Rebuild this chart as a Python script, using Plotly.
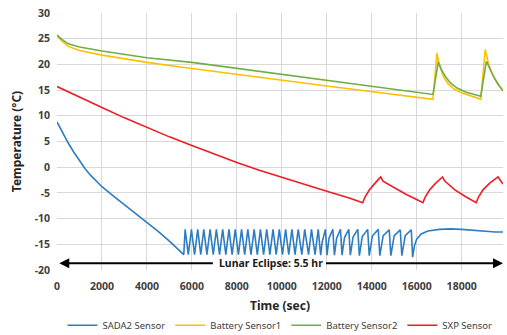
import plotly.graph_objects as go

# ---------------- data ----------------
sada2_t = [0, 250, 500, 750, 1000, 1250, 1500, 1750, 2000, 2500, 3000, 3500, 4000, 4500, 5000, 5640,
           5700, 5840, 5980, 6120, 6260, 6395, 6530, 6670, 6810, 6950, 7090, 7230, 7370,
           7510, 7650, 7790, 7930, 8070, 8210, 8350, 8490, 8630, 8770, 8910, 9050, 9190,
           9330, 9470, 9610, 9750, 9890, 10030, 10170, 10310, 10450, 10590, 10730,
           10890, 11020, 11190, 11320, 11480, 11620, 11730, 11800, 11940,
           12010, 12100, 12270, 12340, 12440, 12610, 12680, 12790, 12980,
           13050, 13170, 13380, 13450, 13580, 13820, 13890, 14030, 14290,
           14360, 14510, 14780, 14850, 15000, 15270, 15340, 15490, 15760,
           15820, 15900, 16000, 16200, 16500, 17000, 17500, 18000, 18500, 19000, 19500, 19840]
sada2_v = [8.8, 6.7, 4.7, 2.9, 1.2, -0.3, -1.6, -2.8, -3.8, -5.6, -7.3, -9.0, -10.7, -12.5, -14.4, -17.0,
           -12.1, -17.0, -12.1, -17.0, -12.1, -17.0, -12.1, -17.0, -12.1, -17.0, -12.1, -17.0, -12.1,
           -17.0, -12.1, -17.0, -12.1, -17.0, -12.1, -17.0, -12.1, -17.0, -12.1, -17.0, -12.1, -17.0,
           -12.1, -17.0, -12.1, -17.0, -12.1, -17.0, -12.1, -17.0, -12.1, -17.0, -12.1,
           -17.0, -12.1, -17.0, -12.1, -17.0, -12.1, -17.1, -14.5, -12.1,
           -17.1, -13.8, -12.1, -17.1, -13.8, -12.1, -17.1, -13.7, -12.1,
           -17.1, -13.6, -12.1, -17.2, -13.5, -12.1, -17.2, -13.4, -12.1,
           -17.2, -13.3, -12.2, -17.2, -13.3, -12.2, -17.2, -13.3, -12.2,
           -17.5, -15.3, -14.0, -13.0, -12.4, -12.1, -12.0, -12.1, -12.3, -12.5, -12.6, -12.6]

bat1_t = [0, 200, 500, 1000, 2000, 4000, 6000, 8578, 12000, 16725, 16900, 17000, 17200, 17400,
          17700, 18000, 18400, 18850, 19050, 19200, 19400, 19600, 19840]
bat1_v = [25.7, 24.6, 23.5, 22.7, 21.8, 20.4, 19.2, 17.7, 15.8, 13.2, 22.2, 20.0, 17.5, 16.2,
          15.1, 14.5, 13.9, 13.2, 22.9, 20.0, 17.8, 16.2, 14.8]

bat2_t = [0, 200, 500, 1000, 2000, 4000, 6000, 8578, 12000, 16725, 16960, 17100, 17300, 17500,
          17800, 18200, 18850, 19100, 19250, 19450, 19650, 19840]
bat2_v = [25.7, 24.9, 24.0, 23.4, 22.6, 21.3, 20.4, 18.9, 16.9, 14.15, 20.5, 19.0, 17.5, 16.4,
          15.4, 14.6, 13.8, 20.6, 19.2, 17.4, 16.0, 14.85]

sxp_t = [0, 1000, 2000, 3000, 4000, 5000, 6000, 7000, 8000, 9000, 10000, 11000, 12000, 13000,
         13600, 13700, 13900, 14150, 14400, 14500, 15000, 15500, 16000, 16280, 16380, 16580,
         16850, 17150, 17250, 17700, 18200, 18650, 18750, 18950, 19250, 19620, 19840]
sxp_v = [15.7, 13.6, 11.6, 9.6, 7.7, 5.9, 4.2, 2.5, 0.9, -0.6, -2.0, -3.4, -4.7, -6.0,
         -6.9, -5.8, -4.4, -3.1, -1.9, -2.7, -4.0, -5.2, -6.3, -6.9, -5.8, -4.4,
         -3.1, -1.9, -2.7, -4.4, -5.8, -6.9, -5.8, -4.4, -3.1, -1.9, -3.3]

x_ticks = [0, 2000, 4000, 6000, 8000, 10000, 12000, 14000, 16000, 18000]
x_tick_labels = ["0", "2000", "4000", "6000", "8000", "10000", "12000", "14000", "16000", "18000"]
y_ticks = [-20, -15, -10, -5, 0, 5, 10, 15, 20, 25, 30]
y_tick_labels = ["-20", "-15", "-10", "-5", "0", "5", "10", "15", "20", "25", "30"]

eclipse_label = "Lunar Eclipse: 5.5 hr"
eclipse_start, eclipse_end, eclipse_y = 100, 19840, -18.7
label_left, label_right, label_center = 7000, 11900, 9500

# ---------------- figure ----------------
FONT = "Noto Sans"
fig = go.Figure()
series = [
    ("SADA2 Sensor", sada2_t, sada2_v, "#2E7DC2"),
    ("Battery Sensor1", bat1_t, bat1_v, "#FFC000"),
    ("Battery Sensor2", bat2_t, bat2_v, "#70AD47"),
    ("SXP Sensor", sxp_t, sxp_v, "#EE1C25"),
]
for name, t, v, c in series:
    fig.add_trace(go.Scatter(x=t, y=v, name=name, mode="lines",
                             line=dict(color=c, width=1.6)))

# eclipse arrows
fig.add_annotation(x=eclipse_start, y=eclipse_y, ax=label_left, ay=eclipse_y,
                   xref="x", yref="y", axref="x", ayref="y", text="", showarrow=True,
                   arrowhead=2, arrowsize=1, arrowwidth=2, arrowcolor="black")
fig.add_annotation(x=eclipse_end, y=eclipse_y, ax=label_right, ay=eclipse_y,
                   xref="x", yref="y", axref="x", ayref="y", text="", showarrow=True,
                   arrowhead=2, arrowsize=1, arrowwidth=2, arrowcolor="black")
fig.add_annotation(x=label_center, y=eclipse_y, xref="x", yref="y", text=eclipse_label,
                   showarrow=False, font=dict(family=FONT, size=10.5, color="#1a1a1a", weight="bold"))

fig.update_layout(
    width=507, height=335,
    margin=dict(l=57, r=4, t=13, b=65, autoexpand=False),
    paper_bgcolor="white", plot_bgcolor="white",
    font=dict(family=FONT, color="#404040"),
    showlegend=True,
    legend=dict(orientation="h", x=0.5, xanchor="center", y=-0.215, yanchor="middle",
                font=dict(family=FONT, size=9.5, color="#404040"), itemwidth=30,
                tracegroupgap=0),
)
fig.update_xaxes(range=[0, 19840], tickvals=x_ticks, ticktext=x_tick_labels, automargin=False,
                 showgrid=True, gridcolor="#D9D9D9",
                 gridwidth=1, zeroline=False, showline=False, ticks="", ticklabelstandoff=8,
                 tickfont=dict(family=FONT, size=10.5, color="#404040", weight="bold"),
                 title=dict(text="Time (sec)", standoff=10,
                            font=dict(family=FONT, size=12, color="#262626", weight="bold")))
fig.update_yaxes(range=[-20, 30], tickvals=y_ticks, ticktext=y_tick_labels, automargin=False,
                 showgrid=True, gridcolor="#D9D9D9",
                 gridwidth=1, zeroline=False, showline=False, ticks="", ticklabelstandoff=6,
                 tickfont=dict(family=FONT, size=10.5, color="#404040", weight="bold"),
                 title=dict(text="Temperature (°C)", standoff=10,
                            font=dict(family=FONT, size=12, color="#262626", weight="bold")))

fig.write_html("out.html")
